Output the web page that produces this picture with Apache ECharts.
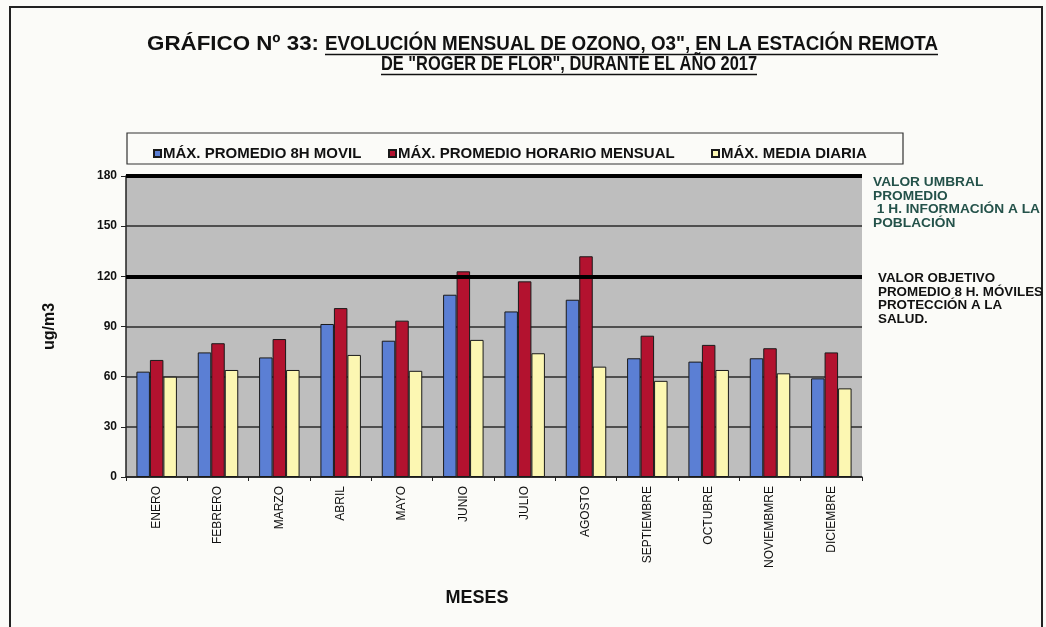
<!DOCTYPE html>
<html><head><meta charset="utf-8">
<script src="https://cdn.jsdelivr.net/npm/echarts@6/dist/echarts.min.js"></script>
<style>html,body{margin:0;padding:0;background:#fbfbf8;}#c{width:1046px;height:627px;}</style>
</head><body><div id="c"></div>
<script>
const months = ['ENERO','FEBRERO','MARZO','ABRIL','MAYO','JUNIO','JULIO','AGOSTO','SEPTIEMBRE','OCTUBRE','NOVIEMBMRE','DICIEMBRE'];
const max8hMovil = [63, 74.5, 71.5, 91.5, 81.5, 109, 99, 106, 71, 69, 71, 59];
const maxHorarioMensual = [70, 80, 82.5, 101, 93.5, 123, 117, 132, 84.5, 79, 77, 74.5];
const maxMediaDiaria = [60, 64, 64, 73, 63.5, 82, 74, 66, 57.5, 64, 62, 53];
const yTicks = [0, 30, 60, 90, 120, 150, 180];
const thresholds = [180, 120];
const seriesNames = ['MÁX. PROMEDIO 8H MOVIL', 'MÁX. PROMEDIO HORARIO MENSUAL', 'MÁX. MEDIA DIARIA'];

const FONT = "'Liberation Sans',Arial,sans-serif";
const chart = echarts.init(document.getElementById('c'));

const ctx = document.createElement('canvas').getContext('2d');
function tw(t, font){ ctx.font = font; return ctx.measureText(t).width; }

const tFont = 'bold 21px ' + FONT;
const t1a = 'GRÁFICO Nº 33:';
const t1b = 'EVOLUCIÓN MENSUAL DE OZONO, O3", EN LA ESTACIÓN REMOTA';
const t2 = 'DE "ROGER DE FLOR", DURANTE EL AÑO 2017';
// target extents (pixels)
const t1aX = 147, t1aW = 172;
const t1bX = 325, t1bW = 613;
const t2X = 381, t2W = 376;
const sx1a = t1aW / tw(t1a, tFont), sx1b = t1bW / tw(t1b, tFont), sx2 = t2W / tw(t2, tFont);

const n1 = 'VALOR UMBRAL\nPROMEDIO\n 1 H. INFORMACIÓN A LA\nPOBLACIÓN';
const n2 = 'VALOR OBJETIVO\nPROMEDIO 8 H. MÓVILES\nPROTECCIÓN A LA\nSALUD.';
const nFont = 'bold 13px ' + FONT;
const sn1 = 167 / tw(' 1 H. INFORMACIÓN A LA', nFont);
const sn2 = 165 / tw('PROMEDIO 8 H. MÓVILES', nFont);

const colors = ['#5b7fd4', '#b3122f', '#fcf7b2'];
const legendLefts = [148, 383, 706];
const legendText = { fontFamily: FONT, fontWeight: 'bold', fontSize: 15, color: '#111', padding: [0,0,0,-3] };

chart.setOption({
  animation: false,
  backgroundColor: '#fbfbf8',
  grid: { left: 126, top: 176, width: 736, height: 301, backgroundColor: '#bebebe', show: true, borderWidth: 0 },
  legend: seriesNames.map((n, i) => ({
    left: legendLefts[i], top: 141, itemWidth: 7, itemHeight: 7, icon: 'rect',
    textStyle: legendText, data: [n]
  })),
  xAxis: {
    type: 'category', data: months,
    axisLine: { lineStyle: { color: '#222', width: 1.5 } },
    axisTick: { show: true, length: 4, lineStyle: { color: '#222' } },
    axisLabel: { rotate: 90, fontFamily: FONT, fontSize: 12, color: '#111', margin: 9 },
    name: 'MESES', nameLocation: 'middle', nameGap: 112,
    nameTextStyle: { fontFamily: FONT, fontWeight: 'bold', fontSize: 18, color: '#111', padding: [0, 34, 0, 0] }
  },
  yAxis: {
    type: 'value', min: 0, max: 180, interval: 30,
    axisLine: { show: true, lineStyle: { color: '#222', width: 1.5 } },
    axisTick: { show: true, length: 5, lineStyle: { color: '#222' } },
    axisLabel: { fontFamily: FONT, fontWeight: 'bold', fontSize: 12, color: '#111', margin: 9 },
    splitLine: { lineStyle: { color: '#2a2a2a', width: 1.5 } },
    name: 'ug/m3', nameLocation: 'middle', nameGap: 68, nameRotate: 90,
    nameTextStyle: { fontFamily: FONT, fontWeight: 'bold', fontSize: 16, color: '#111' }
  },
  series: [
    { name: seriesNames[0], type: 'bar', data: max8hMovil, barWidth: 13.5, barGap: '0%',
      itemStyle: { color: colors[0], borderColor: '#1a1a1a', borderWidth: 1 },
      markLine: { symbol: 'none', silent: true, label: { show: false },
        lineStyle: { color: '#000', width: 4, type: 'solid' },
        data: thresholds.map(v => ({ yAxis: v })) } },
    { name: seriesNames[1], type: 'bar', data: maxHorarioMensual, barWidth: 13.5, barGap: '0%',
      itemStyle: { color: colors[1], borderColor: '#1a1a1a', borderWidth: 1 } },
    { name: seriesNames[2], type: 'bar', data: maxMediaDiaria, barWidth: 13.5, barGap: '0%',
      itemStyle: { color: colors[2], borderColor: '#1a1a1a', borderWidth: 1 } }
  ],
  graphic: [
    { type: 'rect', shape: { x: 10, y: 7, width: 1032, height: 640 }, style: { fill: null, stroke: '#222', lineWidth: 2 }, z: -1 },
    { type: 'rect', shape: { x: 127, y: 133, width: 776, height: 31 }, style: { fill: null, stroke: '#333', lineWidth: 1.2 } },
    { type: 'text', x: t1aX, y: 44, scaleX: sx1a, style: { text: t1a, font: tFont, fill: '#111', textVerticalAlign: 'middle' } },
    { type: 'text', x: t1bX, y: 44, scaleX: sx1b, style: { text: t1b, font: tFont, fill: '#111', textVerticalAlign: 'middle' } },
    { type: 'line', shape: { x1: t1bX, y1: 54.5, x2: t1bX + t1bW, y2: 54.5 }, style: { stroke: '#111', lineWidth: 1.5 } },
    { type: 'text', x: t2X, y: 64, scaleX: sx2, style: { text: t2, font: tFont, fill: '#111', textVerticalAlign: 'middle' } },
    { type: 'line', shape: { x1: t2X, y1: 74.5, x2: t2X + t2W, y2: 74.5 }, style: { stroke: '#111', lineWidth: 1.5 } },
    { type: 'text', x: 873, y: 176, scaleX: sn1, style: { text: n1, font: nFont, lineHeight: 13.5, fill: '#24524a' } },
    { type: 'text', x: 878, y: 272, scaleX: sn2, style: { text: n2, font: nFont, lineHeight: 13.5, fill: '#111' } }
  ]
});
</script></body></html>
